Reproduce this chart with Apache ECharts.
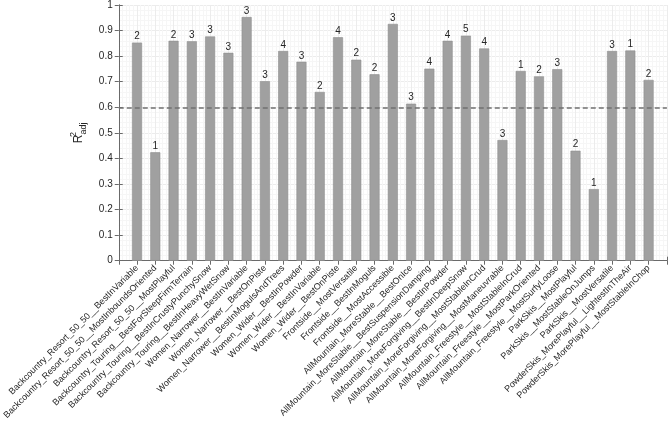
<!DOCTYPE html>
<html>
<head>
<meta charset="utf-8">
<script src="https://cdn.jsdelivr.net/npm/echarts@6/dist/echarts.min.js"></script>
<style>
    html, body { margin: 0; padding: 0; background: #fff; }
    #chart { width: 669px; height: 422px; }
</style>
</head>
<body>
<div id="chart"></div>
<script>
// categories (ski classes)
const names = [
    'Backcountry_Resort_50_50__BestInVariable',
    'Backcountry_Resort_50_50__MostInboundsOriented',
    'Backcountry_Resort_50_50__MostPlayful',
    'Backcountry_Touring__BestForSteepFirmTerrain',
    'Backcountry_Touring__BestInCrustyPunchySnow',
    'Backcountry_Touring__BestInHeavyWetSnow',
    'Women_Narrower__BestInVariable',
    'Women_Narrower__BestOnPiste',
    'Women_Narrower__BestInMogulsAndTrees',
    'Women_Wider__BestInPowder',
    'Women_Wider__BestInVariable',
    'Women_Wider__BestOnPiste',
    'Frontside__MostVersatile',
    'Frontside__BestInMoguls',
    'Frontside__MostAccessible',
    'AllMountain_MoreStable__BestOnIce',
    'AllMountain_MoreStable__BestSuspensionDamping',
    'AllMountain_MoreStable__BestInPowder',
    'AllMountain_MoreForgiving__BestInDeepSnow',
    'AllMountain_MoreForgiving__MostStableInCrud',
    'AllMountain_MoreForgiving__MostManeuvrable',
    'AllMountain_Freestyle__MostStableInCrud',
    'AllMountain_Freestyle__MostParkOriented',
    'AllMountain_Freestyle__MostSurfyLoose',
    'ParkSkis__MostPlayful',
    'ParkSkis__MostStableOnJumps',
    'ParkSkis__MostVersatile',
    'PowderSkis_MorePlayful__LightestInTheAir',
    'PowderSkis_MorePlayful__MostStableInChop'
]

// adjusted R^2 per class
const r2adj = [
    0.853, 0.424, 0.860, 0.858, 0.877, 0.813, 0.953, 0.702, 0.820, 0.778,
    0.660, 0.874, 0.786, 0.729, 0.926, 0.614, 0.751, 0.860, 0.880, 0.830,
    0.472, 0.742, 0.721, 0.749, 0.430, 0.280, 0.820, 0.822, 0.707
]

// number of predictors (label above each bar)
const nPred = [
    2, 1, 2, 3, 3, 3, 3, 3, 4, 3,
    2, 4, 2, 2, 3, 3, 4, 4, 5, 4,
    3, 1, 2, 3, 2, 1, 3, 1, 2
]

const threshold = 0.6

const textColor = '#262626'
const axisColor = '#6a6a6a'
const fontFam = 'Helvetica, "Liberation Sans", Arial, sans-serif'

const myChart = echarts.init(document.getElementById('chart'))

const barData = r2adj.map((v, i) => [i + 1, v])

const option = {
    animation: false,
    grid: {
        left: 107,
        right: 2,
        top: 4,
        bottom: 157
    },
    xAxis: [
        {
            type: 'value',
            min: 0,
            max: 30,
            interval: 1,
            axisLine: { lineStyle: { color: axisColor } },
            axisTick: { inside: true, length: 4, lineStyle: { color: axisColor } },
            axisLabel: {
                rotate: 45,
                fontSize: 9,
                color: textColor,
                fontFamily: fontFam,
                margin: 6,
                formatter: (v) => names[v - 1] || ''
            },
            splitLine: { show: true, lineStyle: { color: '#ececec' } },
            minorTick: { show: false, splitNumber: 5 },
            minorSplitLine: { show: true, lineStyle: { color: '#f6f6f6' } }
        },
        {
            type: 'value',
            position: 'top',
            min: 0,
            max: 30,
            interval: 1,
            axisLine: { show: true, lineStyle: { color: axisColor } },
            axisTick: { inside: true, length: 4, lineStyle: { color: axisColor } },
            axisLabel: { show: false },
            splitLine: { show: false }
        }
    ],
    yAxis: [
        {
            type: 'value',
            min: 0,
            max: 1,
            interval: 0.1,
            axisLine: { show: true, lineStyle: { color: axisColor } },
            axisTick: { show: true, inside: true, length: 4, lineStyle: { color: axisColor } },
            axisLabel: {
                fontSize: 10,
                color: textColor,
                fontFamily: fontFam,
                margin: 6,
                formatter: (v) => String(+v.toFixed(1))
            },
            splitLine: { show: true, lineStyle: { color: '#ececec' } },
            minorTick: { show: false, splitNumber: 5 },
            minorSplitLine: { show: true, lineStyle: { color: '#f6f6f6' } },
            name: '{r|R}{sup|2}{sub|adj}',
            nameLocation: 'middle',
            nameRotate: 90,
            nameGap: 28,
            nameTextStyle: {
                color: textColor,
                fontFamily: fontFam,
                rich: {
                    r: { fontSize: 12, color: textColor, fontFamily: fontFam },
                    sup: { fontSize: 9, color: textColor, fontFamily: fontFam, verticalAlign: 'top', width: 0, padding: [0, 0, 10, 0] },
                    sub: { fontSize: 9, color: textColor, fontFamily: fontFam, verticalAlign: 'bottom', padding: [5, 0, 0, 0] }
                }
            }
        },
        {
            type: 'value',
            position: 'right',
            min: 0,
            max: 1,
            interval: 0.1,
            axisLine: { show: true, lineStyle: { color: axisColor } },
            axisTick: { show: true, inside: true, length: 4, lineStyle: { color: axisColor } },
            axisLabel: { show: false },
            splitLine: { show: false }
        }
    ],
    series: [
        {
            type: 'bar',
            xAxisIndex: 0,
            yAxisIndex: 0,
            data: barData,
            barWidth: 10,
            itemStyle: {
                color: '#a0a0a0',
                borderColor: '#8e8e8e',
                borderWidth: 0.6
            },
            label: {
                show: true,
                position: 'top',
                distance: 1,
                fontSize: 10,
                color: textColor,
                fontFamily: fontFam,
                formatter: (p) => String(nPred[p.dataIndex])
            },
            markLine: {
                silent: true,
                symbol: ['none', 'none'],
                label: { show: false },
                lineStyle: { color: '#707070', type: [5, 3], width: 1.6 },
                data: [{ yAxis: threshold }]
            }
        }
    ]
}

myChart.setOption(option)
</script>
</body>
</html>
